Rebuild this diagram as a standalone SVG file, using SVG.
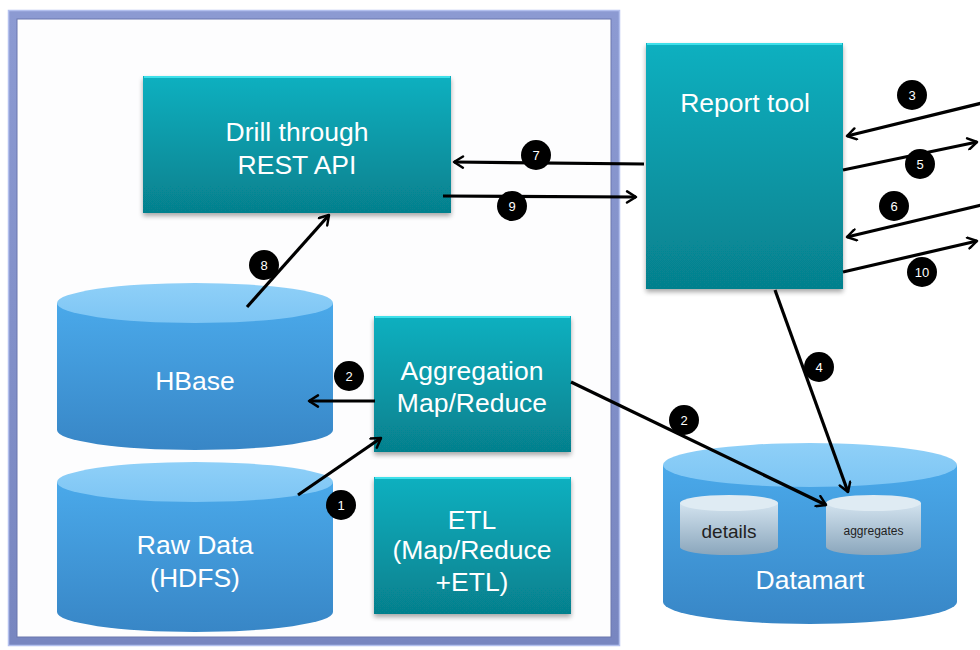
<svg xmlns="http://www.w3.org/2000/svg" width="980" height="650" viewBox="0 0 980 650">
  <defs>
    <linearGradient id="teal" x1="0" y1="0" x2="0" y2="1">
      <stop offset="0" stop-color="#0bb0c0"/>
      <stop offset="1" stop-color="#06808d"/>
    </linearGradient>
    <linearGradient id="cylBody" x1="0" y1="0" x2="0" y2="1">
      <stop offset="0" stop-color="#4aa9ea"/>
      <stop offset="1" stop-color="#3886c6"/>
    </linearGradient>
    <linearGradient id="cylTop" x1="0" y1="0" x2="0" y2="1">
      <stop offset="0" stop-color="#8fd0f8"/>
      <stop offset="1" stop-color="#7dc5f4"/>
    </linearGradient>
    <linearGradient id="smallBody" x1="0" y1="0" x2="0" y2="1">
      <stop offset="0" stop-color="#d3e3ef"/>
      <stop offset="1" stop-color="#8aa6bc"/>
    </linearGradient>
    <linearGradient id="frameStroke" x1="0" y1="0" x2="0" y2="1">
      <stop offset="0" stop-color="#8c9ad2"/>
      <stop offset="1" stop-color="#7886c0"/>
    </linearGradient>
    <filter id="shadow" x="-10%" y="-10%" width="120%" height="125%">
      <feGaussianBlur in="SourceAlpha" stdDeviation="2.5"/>
      <feOffset dx="0" dy="3" result="b"/>
      <feComponentTransfer><feFuncA type="linear" slope="0.35"/></feComponentTransfer>
      <feMerge><feMergeNode/><feMergeNode in="SourceGraphic"/></feMerge>
    </filter>
    <marker id="open" viewBox="0 0 12 12" refX="10" refY="6" markerWidth="4.2" markerHeight="4.2" orient="auto" markerUnits="strokeWidth">
      <path d="M2,1 L10,6 L2,11" fill="none" stroke="#000" stroke-width="2.2" stroke-linecap="round" stroke-linejoin="round"/>
    </marker>
    <style>
      .box { fill: url(#teal); filter: url(#shadow); }
      .bevel { fill: none; stroke: #3fe0ea; stroke-width: 2; }
      .lbl { font-family: "Liberation Sans", Arial, sans-serif; font-size: 26.5px; fill: #ffffff; text-anchor: middle; }
      .edge { fill: none; stroke: #000; stroke-width: 3.2; marker-end: url(#open); }
      .badge circle { fill: #000; }
      .badge text { font-family: "Liberation Sans", Arial, sans-serif; font-size: 13px; fill: #ffffff; text-anchor: middle; }
    </style>
  </defs>

  <rect width="980" height="650" fill="#ffffff"/>

  <!-- cluster frame -->
  <g id="frame">
    <rect x="12.5" y="14.5" width="603" height="627" fill="#fdfdfe" stroke="url(#frameStroke)" stroke-width="9"/>
    <rect x="8.5" y="10.5" width="611" height="635" fill="none" stroke="#b3c0ee" stroke-width="1.5"/>
    <rect x="17" y="19" width="594" height="618" fill="none" stroke="#6a77ad" stroke-width="1"/>
  </g>

  <!-- Drill through REST API -->
  <g id="drill">
    <rect class="box" x="143" y="76" width="308" height="137"/>
    <line class="bevel" x1="144" y1="77" x2="450" y2="77"/>
    <text class="lbl" x="297" y="141">Drill through</text>
    <text class="lbl" x="297" y="174">REST API</text>
  </g>

  <!-- Report tool -->
  <g id="report">
    <rect class="box" x="646" y="43" width="197" height="246"/>
    <line class="bevel" x1="647" y1="44" x2="842" y2="44"/>
    <text class="lbl" x="745" y="112">Report tool</text>
  </g>

  <!-- Aggregation Map/Reduce -->
  <g id="aggregation">
    <rect class="box" x="374" y="316" width="197" height="136"/>
    <line class="bevel" x1="375" y1="317" x2="570" y2="317"/>
    <text class="lbl" x="472" y="380">Aggregation</text>
    <text class="lbl" x="472" y="412">Map/Reduce</text>
  </g>

  <!-- ETL -->
  <g id="etl">
    <rect class="box" x="374" y="477" width="197" height="137"/>
    <line class="bevel" x1="375" y1="478" x2="570" y2="478"/>
    <text class="lbl" x="472" y="529">ETL</text>
    <text class="lbl" x="472" y="559">(Map/Reduce</text>
    <text class="lbl" x="472" y="591">+ETL)</text>
  </g>

  <!-- HBase -->
  <g id="hbase">
    <path d="M57,303 L57,430 A138,20 0 0 0 333,430 L333,303 Z" fill="url(#cylBody)"/>
    <ellipse cx="195" cy="303" rx="138" ry="20" fill="url(#cylTop)"/>
    <text class="lbl" x="195" y="390">HBase</text>
  </g>

  <!-- Raw Data (HDFS) -->
  <g id="rawdata">
    <path d="M57,482 L57,612 A138,20 0 0 0 333,612 L333,482 Z" fill="url(#cylBody)"/>
    <ellipse cx="195" cy="482" rx="138" ry="20" fill="url(#cylTop)"/>
    <text class="lbl" x="195" y="554">Raw Data</text>
    <text class="lbl" x="195" y="587">(HDFS)</text>
  </g>

  <!-- Datamart with details / aggregates -->
  <g id="datamart">
    <path d="M663,465 L663,602 A147,22 0 0 0 957,602 L957,465 Z" fill="url(#cylBody)"/>
    <ellipse cx="810" cy="465" rx="147" ry="22" fill="url(#cylTop)"/>
    <g id="details">
      <path d="M680,503 L680,547 A49,8 0 0 0 778,547 L778,503 Z" fill="url(#smallBody)"/>
      <ellipse cx="729" cy="503" rx="49" ry="8" fill="#dfebf3"/>
      <text x="729" y="538" font-family="Liberation Sans, Arial, sans-serif" font-size="19" fill="#222" text-anchor="middle">details</text>
    </g>
    <g id="aggregates">
      <path d="M826,503 L826,547 A47.5,8 0 0 0 921,547 L921,503 Z" fill="url(#smallBody)"/>
      <ellipse cx="873.5" cy="503" rx="47.5" ry="8" fill="#dfebf3"/>
      <text x="873.5" y="535" font-family="Liberation Sans, Arial, sans-serif" font-size="12" fill="#222" text-anchor="middle">aggregates</text>
    </g>
    <text class="lbl" x="810" y="589">Datamart</text>
  </g>

  <!-- connectors -->
  <g id="connectors">
    <line class="edge" x1="644" y1="164" x2="454" y2="162"/>
    <line class="edge" x1="443" y1="196" x2="636" y2="197"/>
    <line class="edge" x1="247" y1="307" x2="329" y2="215"/>
    <line class="edge" x1="375" y1="401" x2="309" y2="401"/>
    <line class="edge" x1="298" y1="495" x2="381" y2="438"/>
    <line class="edge" x1="571" y1="382" x2="826" y2="505"/>
    <line class="edge" x1="775" y1="290" x2="848" y2="492"/>
    <line class="edge" x1="982" y1="103" x2="847" y2="136"/>
    <line class="edge" x1="843" y1="170" x2="977" y2="142"/>
    <line class="edge" x1="982" y1="205" x2="847" y2="237"/>
    <line class="edge" x1="843" y1="272" x2="977" y2="241"/>
  </g>

  <!-- step badges -->
  <g id="badges">
    <g class="badge"><circle cx="536" cy="155" r="15"/><text x="536" y="159.5">7</text></g>
    <g class="badge"><circle cx="512" cy="206" r="15"/><text x="512" y="210.5">9</text></g>
    <g class="badge"><circle cx="264" cy="265" r="15"/><text x="264" y="269.5">8</text></g>
    <g class="badge"><circle cx="349" cy="376" r="15"/><text x="349" y="380.5">2</text></g>
    <g class="badge"><circle cx="341" cy="505" r="15"/><text x="341" y="509.5">1</text></g>
    <g class="badge"><circle cx="684" cy="420" r="15"/><text x="684" y="424.5">2</text></g>
    <g class="badge"><circle cx="819" cy="367" r="15"/><text x="819" y="371.5">4</text></g>
    <g class="badge"><circle cx="912" cy="95" r="15"/><text x="912" y="99.5">3</text></g>
    <g class="badge"><circle cx="920" cy="164" r="15"/><text x="920" y="168.5">5</text></g>
    <g class="badge"><circle cx="894" cy="206" r="15"/><text x="894" y="210.5">6</text></g>
    <g class="badge"><circle cx="922" cy="272" r="15"/><text x="922" y="276.5">10</text></g>
  </g>
</svg>
